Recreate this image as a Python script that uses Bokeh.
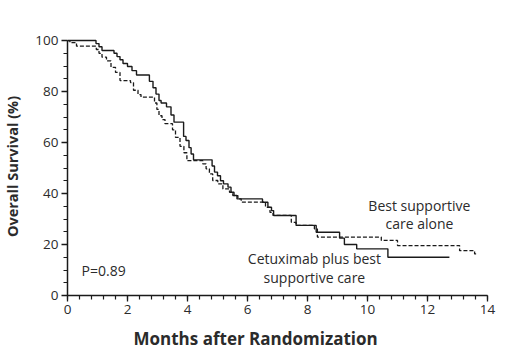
from bokeh.plotting import figure
from bokeh.models import Range1d, FixedTicker, Label, Title
from bokeh.embed import file_html
from bokeh.resources import INLINE

# Cetuximab plus best supportive care (solid)
cetux_t = [0.0, 0.95, 1.05, 1.15, 1.55, 1.65, 1.75, 1.85, 2.0, 2.15, 2.3, 2.73, 2.85,
           2.95, 3.05, 3.12, 3.3, 3.45, 3.55, 3.87, 3.95, 4.05, 4.12, 4.2, 4.82, 4.9,
           5.0, 5.1, 5.2, 5.35, 5.45, 5.55, 5.65, 6.5, 6.68, 6.8, 6.87, 7.62, 8.29,
           9.07, 9.23, 9.64, 10.68, 12.73]
cetux_s = [100, 98.8, 97.6, 96.1, 95.0, 93.7, 92.5, 91.0, 89.8, 88.2, 86.5, 84.0, 81.5,
           79.0, 76.5, 75.5, 74.0, 70.8, 68.0, 62.4, 60.8, 58.0, 55.5, 53.2, 50.8, 48.4,
           47.0, 45.0, 43.8, 42.5, 40.5, 39.2, 37.9, 36.6, 34.6, 33.3, 31.4, 27.5, 24.8,
           22.5, 20.0, 18.3, 15.0, 15.0]

# Best supportive care alone (dashed)
bsc_t = [0.0, 0.08, 0.3, 0.96, 1.05, 1.15, 1.3, 1.45, 1.6, 1.75, 2.1, 2.2, 2.35, 2.45,
         2.9, 2.98, 3.05, 3.15, 3.25, 3.5, 3.6, 3.75, 3.88, 3.98, 4.51, 4.62, 4.73, 4.84,
         5.01, 5.18, 5.4, 5.51, 5.68, 5.79, 6.6, 6.75, 6.85, 7.46, 7.62, 8.23, 8.33,
         10.46, 11.0, 13.07, 13.57, 13.65]
bsc_s = [100, 99.2, 97.8, 96.5, 95.0, 93.5, 92.0, 89.5, 87.5, 84.3, 83.5, 80.5, 78.8, 77.8,
         75.5, 73.0, 70.5, 69.0, 67.4, 65.0, 62.0, 58.5, 56.0, 52.9, 51.6, 49.7, 47.7, 45.1,
         43.8, 41.8, 40.5, 39.2, 37.9, 36.6, 34.6, 32.6, 31.4, 28.7, 27.5, 26.1, 22.9,
         21.6, 19.6, 17.6, 16.3, 16.3]

x_ticks = [0, 2, 4, 6, 8, 10, 12, 14]
y_ticks = [0, 20, 40, 60, 80, 100]

FONT = "Open Sans"
TXT = "#2b2b2b"

p = figure(frame_width=420, frame_height=258, output_backend="svg", toolbar_location=None,
           x_range=Range1d(0, 14), y_range=Range1d(0, 101.2),
           min_border_left=60, min_border_right=20, min_border_top=37, min_border_bottom=56)
p.outline_line_color = None
p.xgrid.visible = False
p.ygrid.visible = False
p.background_fill_color = "white"
p.border_fill_color = "white"

p.step(bsc_t, bsc_s, mode="after", line_color="#1a1a1a", line_width=1.3, line_dash="4 2")
p.step(cetux_t, cetux_s, mode="after", line_color="#1a1a1a", line_width=1.4)

for ax in (p.xaxis[0], p.yaxis[0]):
    ax.axis_line_color = "#1a1a1a"
    ax.axis_line_width = 1.5
    ax.major_tick_line_color = "#1a1a1a"
    ax.minor_tick_line_color = "#1a1a1a"
    ax.major_tick_line_width = 1.3
    ax.minor_tick_line_width = 1.2
    ax.major_tick_in = 0
    ax.minor_tick_in = 0
    ax.major_tick_out = 6
    ax.minor_tick_out = 4
    ax.major_label_text_font = FONT
    ax.major_label_text_font_size = "13.5px"
    ax.major_label_text_color = TXT
    ax.axis_label_text_font = FONT
    ax.axis_label_text_font_style = "bold"
    ax.axis_label_text_color = TXT

p.xaxis[0].ticker = FixedTicker(ticks=x_ticks, minor_ticks=[i * 0.4 for i in range(36)])
p.yaxis[0].ticker = FixedTicker(ticks=y_ticks, minor_ticks=list(range(0, 101, 5)))
p.xaxis[0].bounds = (0, 14)
p.yaxis[0].bounds = (0, 100)
p.xaxis[0].major_label_standoff = 3
p.yaxis[0].major_label_standoff = 3
p.yaxis[0].axis_label = "Overall Survival (%)"
p.yaxis[0].axis_label_text_font_size = "14.5px"
p.yaxis[0].axis_label_standoff = 10

# x-axis title (placed slightly left of centre, as in the original)
p.add_layout(Title(text="Months after Randomization", text_font=FONT,
                   text_font_size="17px", text_font_style="bold", text_color=TXT,
                   align="left", offset=66, standoff=17), "below")

def add_text(x, y, t, align="center"):
    p.add_layout(Label(x=x, y=y, text=t, text_font=FONT, text_font_size="14px",
                       text_color=TXT, text_align=align, text_baseline="middle"))

add_text(0.47, 10.0, "P=0.89", align="left")
add_text(11.73, 35.3, "Best supportive")
add_text(11.73, 28.2, "care alone")
add_text(8.23, 14.5, "Cetuximab plus best")
add_text(8.23, 7.1, "supportive care")

open("out.html", "w").write(file_html(p, INLINE))
